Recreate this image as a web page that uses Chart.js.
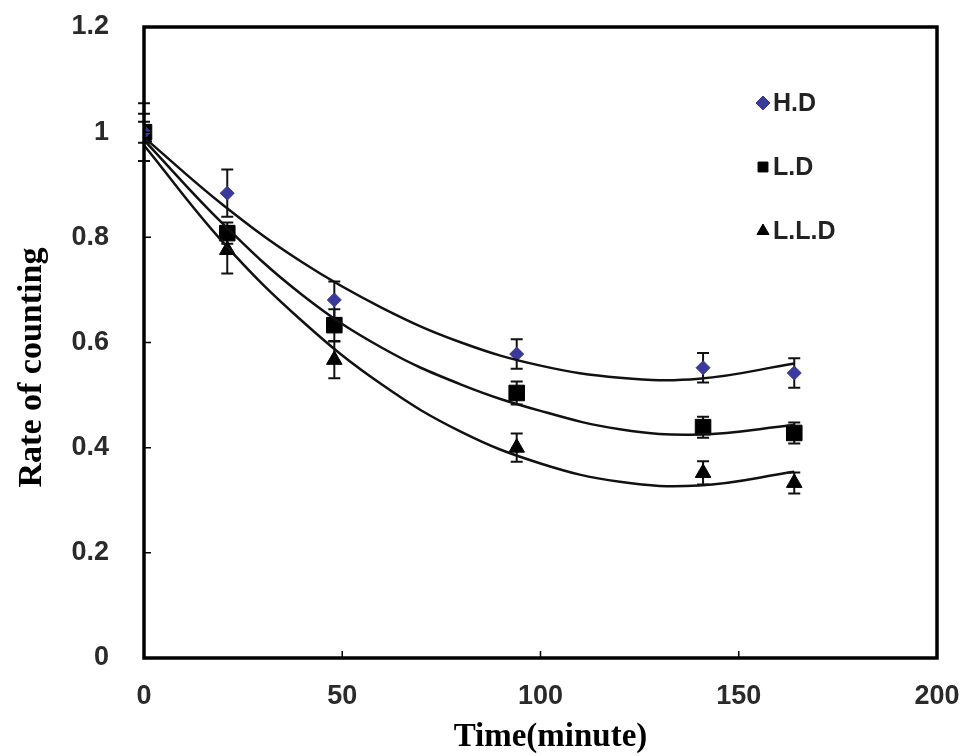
<!DOCTYPE html>
<html>
<head>
<meta charset="utf-8">
<script src="https://cdn.jsdelivr.net/npm/chart.js@4.4.1/dist/chart.umd.min.js"></script>
<style>
  html, body { margin: 0; padding: 0; background: #fff; }
</style>
</head>
<body>
<canvas id="rate-chart" width="971" height="756"></canvas>
<script>
// measured points
var times = [0, 21, 48, 94, 141, 164];
var hdValues = [1.0, 0.884, 0.681, 0.578, 0.552, 0.542];
var hdErrors = [0.055, 0.045, 0.035, 0.028, 0.028, 0.028];
var ldValues = [1.0, 0.808, 0.633, 0.504, 0.439, 0.428];
var ldErrors = [0.02, 0.02, 0.03, 0.022, 0.02, 0.02];
var lldValues = [0.99, 0.776, 0.567, 0.400, 0.352, 0.333];
var lldErrors = [0.045, 0.045, 0.035, 0.027, 0.022, 0.02];

// trend curves
var fitTimes = [0, 20, 40, 60, 80, 100, 120, 140, 164];
var hdFit = [0.99, 0.861, 0.752, 0.666, 0.600, 0.556, 0.533, 0.531, 0.560];
var ldFit = [0.985, 0.825, 0.69, 0.59, 0.52, 0.47, 0.435, 0.425, 0.443];
var lldFit = [0.975, 0.79, 0.64, 0.52, 0.43, 0.37, 0.335, 0.328, 0.354];

var legendLabels = ["H.D", "L.D", "L.L.D"];
var xTitle = "Time(minute)";
var yTitle = "Rate of counting";
var hdColor = "#3a3a9c";

function toXY(xs, ys) {
  return xs.map(function (x, i) { return { x: x, y: ys[i] }; });
}

function fitSet(ys) {
  return {
    data: toXY(fitTimes, ys),
    showLine: true,
    borderColor: "#111",
    borderWidth: 2.5,
    pointRadius: 0,
    tension: 0.4,
    fill: false
  };
}

function pointSet(label, ys, errs, style, color, radius) {
  return {
    label: label,
    data: toXY(times, ys),
    errors: errs,
    showLine: false,
    pointStyle: style,
    pointRadius: radius,
    backgroundColor: color,
    borderColor: color,
    borderWidth: 1
  };
}

var errorBars = {
  id: "errorBars",
  beforeDatasetsDraw: function (chart) {
    var ctx = chart.ctx;
    var xs = chart.scales.x, ys = chart.scales.y;
    ctx.save();
    ctx.strokeStyle = "#111";
    ctx.lineWidth = 2;
    chart.data.datasets.forEach(function (ds) {
      if (!ds.errors) return;
      ds.data.forEach(function (p, i) {
        var px = xs.getPixelForValue(p.x);
        var top = ys.getPixelForValue(p.y + ds.errors[i]);
        var bot = ys.getPixelForValue(p.y - ds.errors[i]);
        ctx.beginPath();
        ctx.moveTo(px, top); ctx.lineTo(px, bot);
        ctx.moveTo(px - 6, top); ctx.lineTo(px + 6, top);
        ctx.moveTo(px - 6, bot); ctx.lineTo(px + 6, bot);
        ctx.stroke();
      });
    });
    ctx.restore();
  }
};

var frameAndLegend = {
  id: "frameAndLegend",
  afterDraw: function (chart) {
    var ctx = chart.ctx;
    var a = chart.chartArea;
    var xs = chart.scales.x, ys = chart.scales.y;
    ctx.save();
    ctx.strokeStyle = "#000";
    ctx.lineWidth = 3.5;
    ctx.strokeRect(a.left, a.top, a.right - a.left, a.bottom - a.top);
    // inward tick marks
    ctx.lineWidth = 1.5;
    ctx.beginPath();
    ys.ticks.forEach(function (t) {
      var py = ys.getPixelForValue(t.value);
      ctx.moveTo(a.left, py); ctx.lineTo(a.left + 7, py);
    });
    xs.ticks.forEach(function (t) {
      var px = xs.getPixelForValue(t.value);
      ctx.moveTo(px, a.bottom); ctx.lineTo(px, a.bottom - 7);
    });
    ctx.stroke();

    // axis titles (serif, bold)
    ctx.fillStyle = "#000";
    ctx.textAlign = "center";
    ctx.textBaseline = "alphabetic";
    ctx.font = "bold 33px 'Liberation Serif', 'Times New Roman', serif";
    ctx.fillText(xTitle, (a.left + a.right) / 2 + 10, 746);
    ctx.save();
    ctx.translate(41, (a.top + a.bottom) / 2 + 25);
    ctx.rotate(-Math.PI / 2);
    ctx.font = "bold 34px 'Liberation Serif', 'Times New Roman', serif";
    ctx.fillText(yTitle, 0, 0);
    ctx.restore();

    // legend inside the plot
    var lx = 763, ly = 103, gap = 64;
    ctx.textAlign = "left";
    ctx.textBaseline = "middle";
    ctx.font = "bold 25px 'Liberation Sans', Arial, sans-serif";
    chart.data.datasets.filter(function (d) { return d.errors; }).forEach(function (d, i) {
      var cy = ly + i * gap;
      ctx.fillStyle = d.backgroundColor;
      ctx.strokeStyle = d.backgroundColor;
      ctx.lineWidth = 1;
      Chart.helpers.drawPoint(ctx, { pointStyle: d.pointStyle, radius: 7, borderWidth: 1 }, lx, cy);
      ctx.fillStyle = "#222";
      ctx.fillText(legendLabels[i], lx + 10, cy + 1);
    });
    ctx.restore();
  }
};

var tickFont = { family: "'Liberation Sans', Arial, sans-serif", size: 27, weight: "bold" };

var ctxRate = document.getElementById("rate-chart");

ctxRate && new Chart(ctxRate.getContext("2d"), {
  type: "scatter",
  data: {
    datasets: [
      fitSet(hdFit),
      fitSet(ldFit),
      fitSet(lldFit),
      pointSet(legendLabels[0], hdValues, hdErrors, "rectRot", hdColor, 7),
      pointSet(legendLabels[1], ldValues, ldErrors, "rect", "#000", 11),
      pointSet(legendLabels[2], lldValues, lldErrors, "triangle", "#000", 9)
    ]
  },
  options: {
    responsive: false,
    animation: false,
    layout: { padding: { left: 0, right: 34, top: 27, bottom: 0 } },
    plugins: {
      legend: { display: false },
      tooltip: { enabled: false }
    },
    scales: {
      x: {
        type: "linear",
        min: 0,
        max: 200,
        grid: { display: false },
        border: { display: false },
        ticks: { stepSize: 50, padding: 14, color: "#2a2a2a", font: tickFont },
        afterFit: function (s) {
          s.height = 98;
          s.paddingLeft = 0;
          s.paddingRight = 0;
        }
      },
      y: {
        min: 0,
        max: 1.2,
        grid: { display: false },
        border: { display: false },
        ticks: {
          stepSize: 0.2,
          padding: 27,
          color: "#2a2a2a",
          font: tickFont,
          callback: function (v) { return String(Number(v.toFixed(1))); }
        },
        afterFit: function (s) {
          s.width = 144;
          s.paddingTop = 0;
          s.paddingBottom = 0;
        }
      }
    }
  },
  plugins: [errorBars, frameAndLegend]
});
</script>
</body>
</html>
